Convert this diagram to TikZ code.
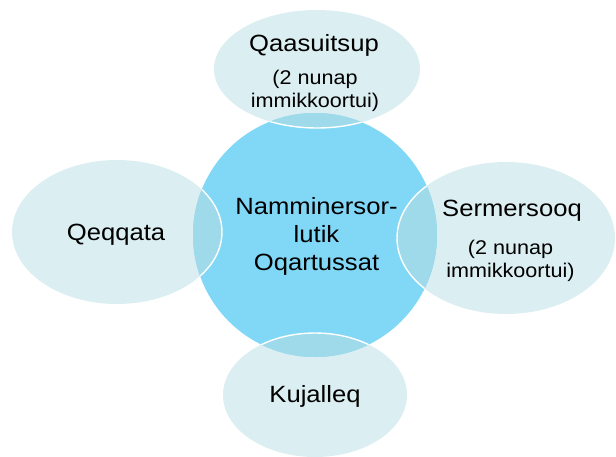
\documentclass[tikz,border=0pt]{standalone}
\usepackage{fontspec}
\setmainfont[FakeStretch=1.09]{Liberation Sans}
\definecolor{hub}{HTML}{80D7F6}
\definecolor{sat}{HTML}{DBEEF1}
\definecolor{ovl}{HTML}{9FDAEB}
\tikzset{
  bigtxt/.style={font=\fontsize{23.5}{28}\selectfont, align=center, anchor=base, inner sep=0pt},
  smalltxt/.style={font=\fontsize{19.8}{23}\selectfont, align=center, anchor=base, inner sep=0pt},
  satfill/.style={fill=sat},
  satline/.style={draw=white, line width=1.4pt},
}
\begin{document}
\begin{tikzpicture}[x=1pt,y=-1pt]
\useasboundingbox (0,0) rectangle (616,456);
% satellite fills
\fill[satfill] (317,69) ellipse [x radius=103, y radius=59];
\fill[satfill] (117,232) ellipse [x radius=105, y radius=72];
\fill[satfill] (506,238) ellipse [x radius=109, y radius=76];
\fill[satfill] (315,395) ellipse [x radius=92, y radius=62];
% hub
\fill[hub] (315,235) circle [radius=122];
% overlaps
\begin{scope}
  \clip (315,235) circle [radius=122];
  \fill[ovl] (317,69) ellipse [x radius=103, y radius=59];
  \fill[ovl] (117,232) ellipse [x radius=105, y radius=72];
  \fill[ovl] (506,238) ellipse [x radius=109, y radius=76];
  \fill[ovl] (315,395) ellipse [x radius=92, y radius=62];
  \draw[satline] (317,69) ellipse [x radius=103, y radius=59];
  \draw[satline] (117,232) ellipse [x radius=105, y radius=72];
  \draw[satline] (506,238) ellipse [x radius=109, y radius=76];
  \draw[satline] (315,395) ellipse [x radius=92, y radius=62];
\end{scope}
% texts (base anchor = baseline of last line)
\node[bigtxt] (hubtxt) at (316.5,270) {Namminersor-\\lutik\\Oqartussat};
\node[bigtxt] (qaa) at (314,51.5) {Qaasuitsup};
\node[smalltxt] (qaasub) at (315,107.5) {(2 nunap\\immikkoortui)};
\node[bigtxt] (ser) at (512,216.7) {Sermersooq};
\node[smalltxt] (sersub) at (510.5,277) {(2 nunap\\immikkoortui)};
\node[bigtxt] (qeq) at (116,240) {Qeqqata};
\node[bigtxt] (kuj) at (315,402.7) {Kujalleq};
\end{tikzpicture}
\end{document}
